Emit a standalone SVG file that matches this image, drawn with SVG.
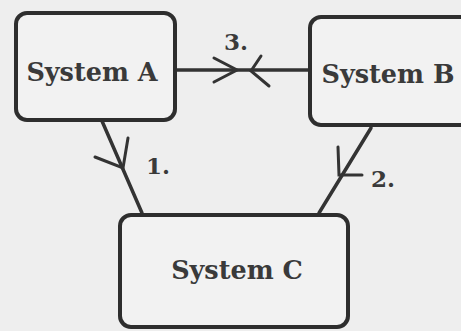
<svg xmlns="http://www.w3.org/2000/svg" width="461" height="331" viewBox="0 0 461 331">
<style>
.box{fill:#f2f2f2;stroke:#2e2e2e;stroke-width:4}
.lbl{font-family:"DejaVu Serif","Liberation Serif",serif;font-weight:bold;font-size:25.5px;fill:#3a3a3a;text-anchor:middle}
.num{font-family:"DejaVu Serif","Liberation Serif",serif;font-weight:bold;font-size:23px;fill:#3a3a3a}
.ln{stroke:#333;stroke-width:3.5;fill:none;stroke-linecap:round}
.ah{stroke:#333;stroke-width:3;fill:none;stroke-linecap:round}
</style>
<rect width="461" height="331" fill="#eeeeee"/>
<g id="connectors">
<path class="ln" d="M175,70 L310,70"/>
<path class="ah" d="M214,58 L237,70 L214,82"/>
<path class="ah" d="M261,56 L251,71 L269,86"/>
<path class="ln" d="M102,121 L142,213"/>
<path class="ah" d="M95,157 L123,168 L128,138"/>
<path class="ln" d="M371,128 L319,213"/>
<path class="ah" d="M338,147 L339,175 L362,175"/>
<text class="num" x="224" y="50">3.</text>
<text class="num" x="146" y="174">1.</text>
<text class="num" x="371" y="187">2.</text>
</g>
<g id="systemA">
<rect class="box" x="16" y="13" width="159" height="107" rx="11"/>
<text class="lbl" x="92" y="81">System A</text>
</g>
<g id="systemB">
<rect class="box" x="310" y="17" width="170" height="108" rx="11"/>
<text class="lbl" x="388" y="83">System B</text>
</g>
<g id="systemC">
<rect class="box" x="120" y="215" width="228" height="112" rx="11"/>
<text class="lbl" x="237" y="279">System C</text>
</g>
</svg>
